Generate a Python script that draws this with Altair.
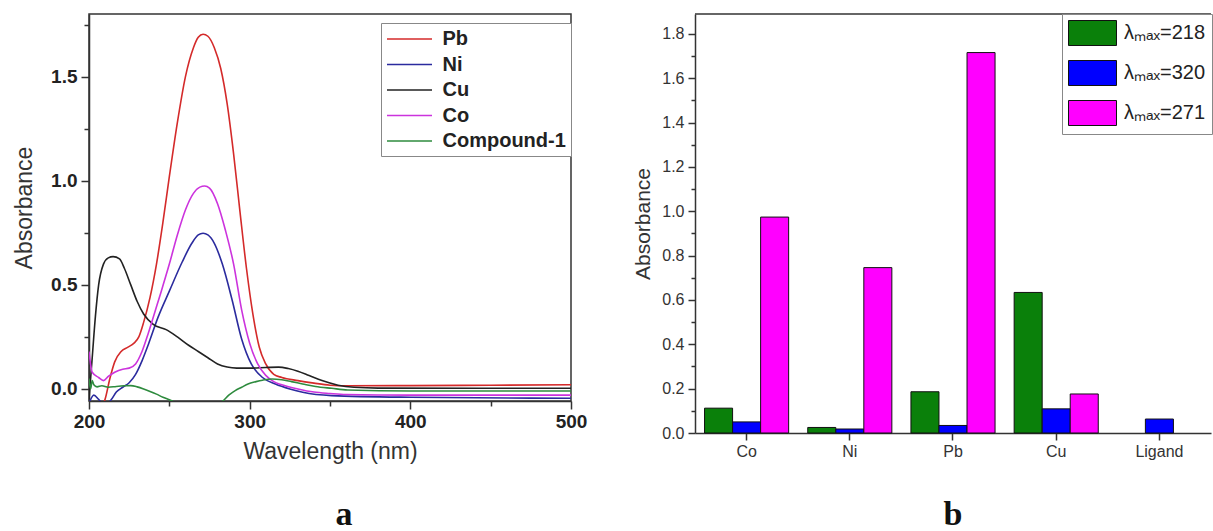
import altair as alt
import pandas as pd

# ---------------- Panel a: UV-Vis spectra ----------------
series_order = ["Pb", "Ni", "Cu", "Co", "Compound-1"]
line_colors = ["#d42a2a", "#2b2b9e", "#222222", "#cc33dd", "#2e8b3e"]

pb_wl = [206, 210, 213, 216, 220, 224, 228, 231, 234, 238, 242, 246, 250, 255, 260, 265, 268, 271, 274, 278,
         282, 286, 290, 294, 298, 302, 306, 310, 315, 320, 330, 340, 350, 360, 400, 450, 500]
pb_abs = [-0.10, -0.05, 0.05, 0.13, 0.18, 0.20, 0.22, 0.25, 0.32, 0.44, 0.60, 0.80, 1.02, 1.28, 1.50, 1.64, 1.69, 1.705, 1.695, 1.64,
          1.54, 1.37, 1.13, 0.85, 0.58, 0.36, 0.20, 0.12, 0.07, 0.055, 0.04, 0.028, 0.018, 0.015, 0.016, 0.018, 0.02]

ni_wl = [200, 203, 206, 210, 214, 217, 221, 225, 229, 233, 237, 243, 250, 258, 264, 268, 271, 274, 278, 283,
         289, 295, 301, 308, 316, 325, 333, 351, 400, 500]
ni_abs = [-0.07, -0.03, -0.05, -0.08, -0.05, -0.015, 0.008, 0.03, 0.07, 0.135, 0.215, 0.345, 0.47, 0.61, 0.70, 0.74, 0.748, 0.74, 0.70, 0.60,
          0.43, 0.24, 0.12, 0.055, 0.024, 0.0, -0.016, -0.032, -0.04, -0.045]

cu_wl = [200, 202, 204, 206, 209, 212, 215, 219, 222, 226, 230, 234, 240, 248, 255, 262, 268, 274, 280, 286,
         292, 300, 310, 318, 324, 330, 337, 345, 355, 365, 380, 500]
cu_abs = [-0.05, 0.15, 0.35, 0.50, 0.60, 0.63, 0.636, 0.625, 0.58, 0.50, 0.42, 0.36, 0.31, 0.285, 0.25, 0.21, 0.18, 0.15, 0.12, 0.105,
          0.10, 0.10, 0.103, 0.105, 0.098, 0.085, 0.064, 0.04, 0.018, 0.008, 0.004, 0.003]

co_wl = [200, 202, 206, 209, 212, 216, 221, 225, 229, 233, 237, 241, 245, 250, 255, 260, 265, 269, 272, 275,
         280, 285, 290, 295, 300, 305, 310, 315, 320, 330, 340, 350, 360, 400, 500]
co_abs = [0.18, 0.08, 0.055, 0.04, 0.06, 0.08, 0.095, 0.10, 0.12, 0.18, 0.27, 0.37, 0.47, 0.60, 0.74, 0.86, 0.94, 0.97, 0.975, 0.965,
          0.89, 0.76, 0.60, 0.38, 0.22, 0.12, 0.065, 0.035, 0.02, 0.0, -0.015, -0.022, -0.027, -0.03, -0.03]

c1_wl = [200, 201, 202, 203, 205, 208, 212, 217, 222, 226, 230, 234, 238, 242, 246, 250, 255, 265, 275, 283,
         287, 291, 295, 299, 304, 308, 314, 320, 326, 333, 341, 351, 361, 400, 500]
c1_abs = [0.05, 0.0, 0.04, 0.02, 0.01, 0.015, 0.008, 0.012, 0.015, 0.016, 0.01, 0.0, -0.012, -0.025, -0.04, -0.052, -0.07, -0.10, -0.09, -0.06,
          -0.03, -0.008, 0.008, 0.024, 0.035, 0.042, 0.048, 0.044, 0.035, 0.024, 0.012, 0.003, -0.005, -0.01, -0.01]

x_ticks_a = [200, 250, 300, 350, 400, 450, 500]
y_ticks_a = [0.0, 0.25, 0.5, 0.75, 1.0, 1.25, 1.5, 1.75]

# ---------------- Panel b: absorbance at lambda max ----------------
categories = ["Co", "Ni", "Pb", "Cu", "Ligand"]
waves = ["λₘₐₓ=218", "λₘₐₓ=320", "λₘₐₓ=271"]
bar_colors = ["#0a800a", "#0000ff", "#ff00ff"]
abs_218 = [0.112, 0.025, 0.186, 0.634, None]
abs_320 = [0.05, 0.018, 0.034, 0.109, 0.063]
abs_271 = [0.974, 0.746, 1.716, 0.176, None]
y_ticks_b = [round(0.1 * i, 1) for i in range(19)]

# ---------------- build tables ----------------
rows = []
for name, wl, ab in [("Pb", pb_wl, pb_abs), ("Ni", ni_wl, ni_abs), ("Cu", cu_wl, cu_abs),
                     ("Co", co_wl, co_abs), ("Compound-1", c1_wl, c1_abs)]:
    for w, a in zip(wl, ab):
        rows.append({"series": name, "wl": w, "abs": a})
spec = pd.DataFrame(rows)

brows = []
for wave, vals in zip(waves, [abs_218, abs_320, abs_271]):
    for c, v in zip(categories, vals):
        if v is not None:
            brows.append({"cat": c, "wave": wave, "abs": v})
bars_df = pd.DataFrame(brows)

FONT = "Liberation Sans"
AX = "#333333"

left = alt.Chart(spec).mark_line(interpolate="monotone", clip=True, strokeWidth=1.6).encode(
    x=alt.X("wl:Q", scale=alt.Scale(domain=[200, 500], nice=False, zero=False),
            axis=alt.Axis(title="Wavelength (nm)", values=x_ticks_a, grid=False, labelFlush=False,
                          labelExpr="datum.value % 100 == 0 ? datum.label : ''",
                          tickSize={"condition": {"test": "datum.value % 100 == 0", "value": 8}, "value": 5},
                          labelFontSize=19, labelFontWeight="bold", labelColor="#222", labelPadding=3,
                          labelFont=FONT, titleFont=FONT,
                          titleFontSize=23, titleFontWeight="normal", titleColor=AX, titlePadding=9,
                          domainColor=AX, domainWidth=1.5, tickColor=AX, tickWidth=1.5)),
    y=alt.Y("abs:Q", scale=alt.Scale(domain=[-0.058, 1.802], nice=False, zero=False),
            axis=alt.Axis(title="Absorbance", values=y_ticks_a, grid=False, format=".1f", labelFlush=False,
                          labelExpr="datum.value % 0.5 == 0 ? datum.label : ''",
                          tickSize={"condition": {"test": "datum.value % 0.5 == 0", "value": 8}, "value": 5},
                          labelFontSize=19, labelFontWeight="bold", labelColor="#222", labelPadding=4,
                          labelFont=FONT, titleFont=FONT,
                          titleFontSize=23, titleFontWeight="normal", titleColor=AX, titlePadding=14,
                          domainColor=AX, domainWidth=1.5, tickColor=AX, tickWidth=1.5)),
    color=alt.Color("series:N", scale=alt.Scale(domain=series_order, range=line_colors),
                    legend=alt.Legend(title=None, orient="none", legendX=292, legendY=9,
                                      symbolType="M-2.25,0H2.25", symbolSize=400, symbolStrokeWidth=1.6,
                                      symbolOffset=12.5, labelOffset=22,
                                      labelFontSize=20, labelFontWeight="bold", labelFont=FONT,
                                      labelColor="#222", strokeColor="#888", fillColor="white",
                                      padding=5, rowPadding=4.5)),
).properties(
    width=482, height=387,
    title=alt.TitleParams("a", orient="bottom", font="Liberation Serif", fontSize=34,
                          fontWeight="bold", color="#111", offset=35, dx=14, frame="group"),
)

bars = alt.Chart(bars_df).mark_bar(stroke="#111", strokeWidth=1).encode(
    x=alt.X("cat:N", sort=categories,
            scale=alt.Scale(domain=categories, paddingInner=0.185, paddingOuter=0.0925),
            axis=alt.Axis(title=None, labelAngle=0, labelFontSize=16, labelColor=AX, labelFont=FONT,
                          labelPadding=3, tickSize=7, tickColor=AX, tickWidth=1.5,
                          domainColor=AX, domainWidth=1.5)),
    xOffset=alt.XOffset("wave:N", sort=waves, scale=alt.Scale(domain=waves, paddingInner=0, paddingOuter=0)),
    y=alt.Y("abs:Q", scale=alt.Scale(domain=[0, 1.89], nice=False),
            axis=alt.Axis(title="Absorbance", values=y_ticks_b, grid=False, format=".1f", labelFlush=False,
                          labelExpr="round(datum.value * 10) % 2 == 0 ? datum.label : ''",
                          tickSize={"condition": {"test": "round(datum.value * 10) % 2 == 0", "value": 7}, "value": 4},
                          labelFontSize=16, labelColor=AX, labelFont=FONT, labelPadding=4,
                          titleFont=FONT, titleFontSize=21, titleFontWeight="normal", titleColor=AX,
                          titlePadding=8, domainColor=AX, domainWidth=1.5, tickColor=AX, tickWidth=1.5)),
    color=alt.Color("wave:N", sort=waves, scale=alt.Scale(domain=waves, range=bar_colors),
                    legend=alt.Legend(title=None, orient="none", legendX=367, legendY=0,
                                      symbolType="M-1.92,-1H1.92V1H-1.92Z", symbolSize=625,
                                      symbolOffset=11.5, labelOffset=18.5,
                                      symbolStrokeColor="#111", symbolStrokeWidth=1,
                                      labelFontSize=20, labelFont=FONT, labelColor="#222",
                                      strokeColor="#888", fillColor="white",
                                      padding=6, rowPadding=10)),
)

top_border = alt.Chart(pd.DataFrame({"k": [0]})).mark_rule(color=AX, strokeWidth=1.5).encode(
    x=alt.value(0), x2=alt.value(516), y=alt.value(0)
)

right = alt.layer(bars, top_border).properties(
    width=516, height=419,
    view=alt.ViewBackground(strokeWidth=0),
    title=alt.TitleParams("b", orient="bottom", font="Liberation Serif", fontSize=34,
                          fontWeight="bold", color="#111", offset=39, frame="group"),
)

chart = alt.hconcat(left, right, spacing=124, bounds="flush").resolve_scale(
    color="independent"
).configure(
    font=FONT, padding={"left": 12, "top": 13, "right": 0, "bottom": 0}
).configure_view(stroke=AX, strokeWidth=1.5)

chart.save("out.html", embed_options={"renderer": "svg", "actions": False})
